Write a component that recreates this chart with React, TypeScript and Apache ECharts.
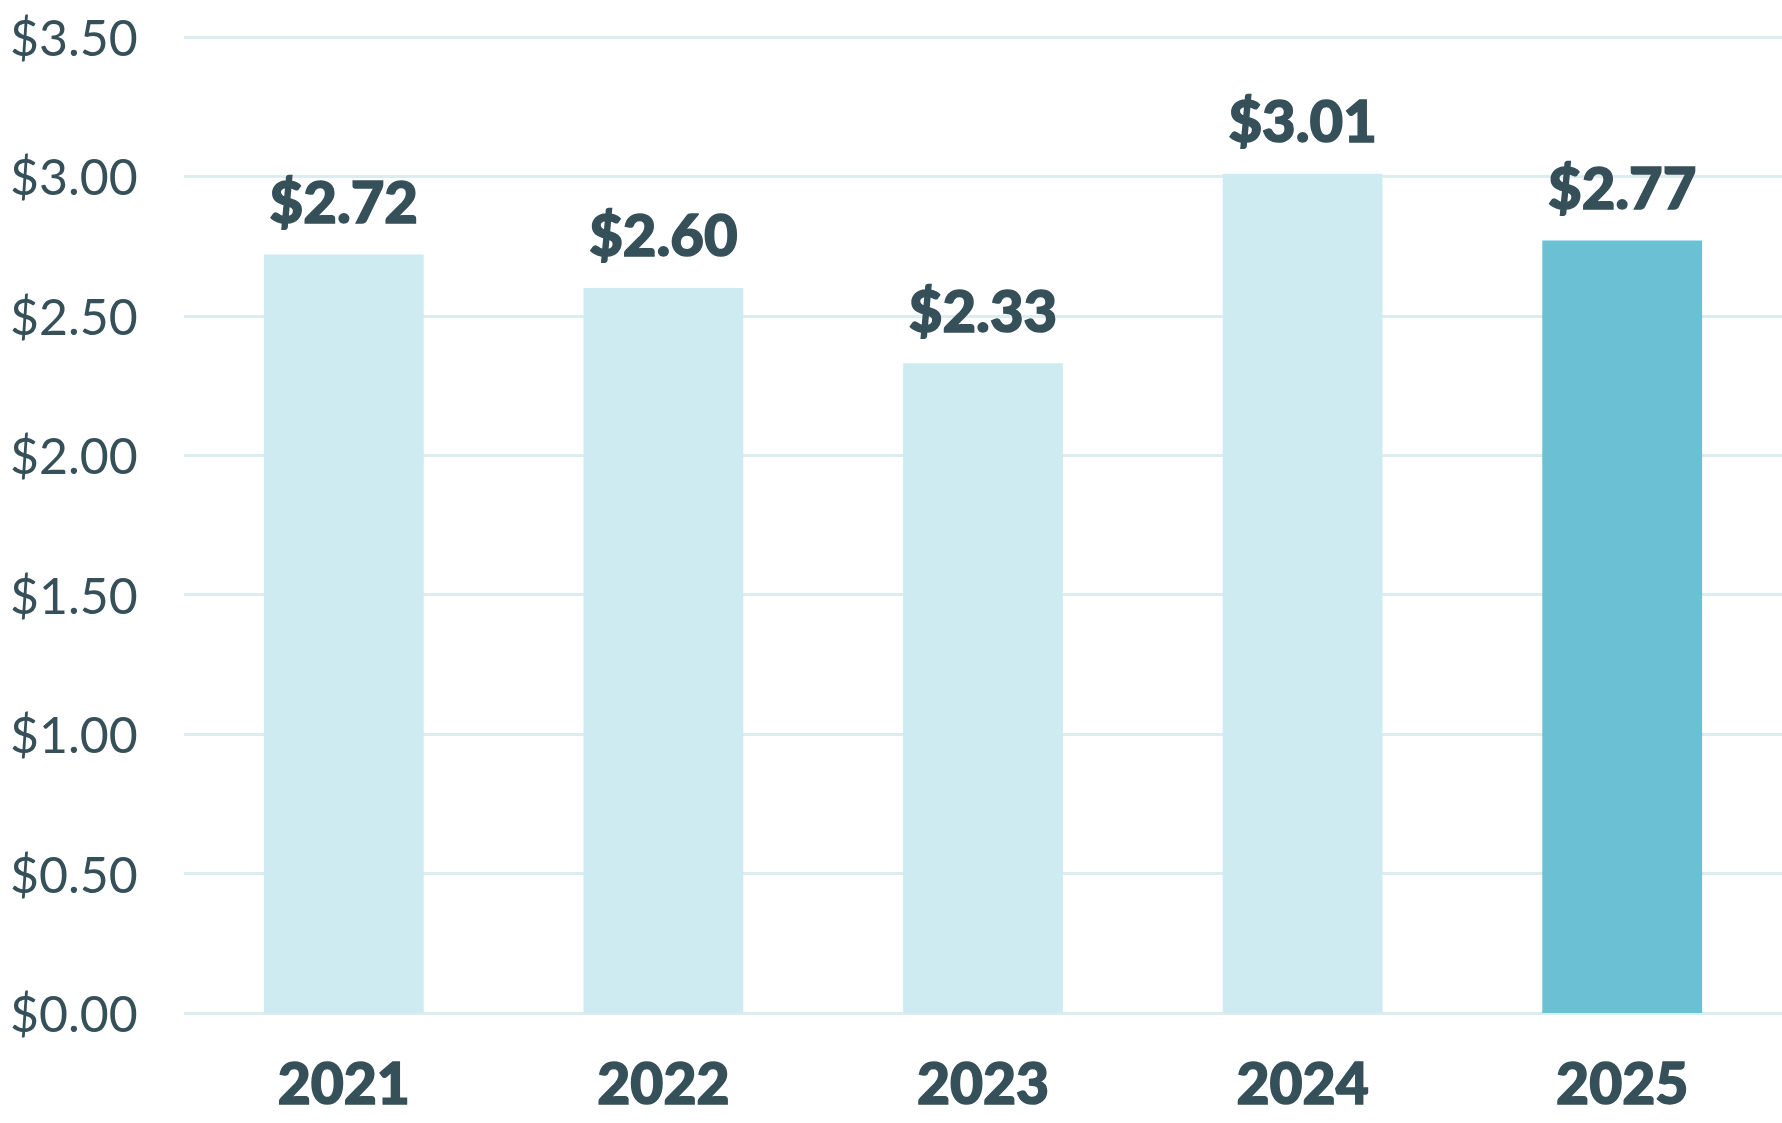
import React, { useEffect, useRef } from "react";
import * as echarts from "echarts";

const categories = ["2021", "2022", "2023", "2024", "2025"];
const values = [2.72, 2.6, 2.33, 3.01, 2.77];
const highlightIndex = 4;
const yTicks = [0, 0.5, 1, 1.5, 2, 2.5, 3, 3.5];

const TEXT = "#36505a";
const LIGHT = "#cdebf1";
const DARK = "#6cc0d3";
const GRID = "#dcecef";

export default function App() {
  const ref = useRef<HTMLDivElement>(null);
  useEffect(() => {
    document.body.style.margin = "0";
    const chart = echarts.init(ref.current!, null, { renderer: "svg" });
    chart.setOption({
      animation: false,
      backgroundColor: "#ffffff",
      grid: { left: 184, right: 0, top: 37, bottom: 110, containLabel: false },
      xAxis: {
        type: "category",
        data: categories,
        axisLine: { show: false },
        axisTick: { show: false },
        axisLabel: {
          color: TEXT,
          fontFamily: "Lato",
          fontWeight: 900,
          fontSize: 57,
          margin: 40,
          textBorderColor: TEXT,
          textBorderWidth: 1.5,
        },
      },
      yAxis: {
        type: "value",
        min: yTicks[0],
        max: yTicks[yTicks.length - 1],
        interval: 0.5,
        axisLine: { show: false },
        axisTick: { show: false },
        splitLine: { lineStyle: { color: GRID, width: 3 } },
        axisLabel: {
          color: TEXT,
          fontFamily: "Lato",
          fontWeight: 400,
          fontSize: 50,
          align: "left",
          margin: 174,
          formatter: (v: number) => "$" + v.toFixed(2),
        },
      },
      series: [
        {
          type: "bar",
          barWidth: "50%",
          data: values.map((v, i) => ({
            value: v,
            itemStyle: { color: i === highlightIndex ? DARK : LIGHT },
          })),
          label: {
            show: true,
            position: "top",
            distance: 25,
            color: TEXT,
            fontFamily: "Lato",
            fontWeight: 900,
            fontSize: 58,
            textBorderColor: TEXT,
            textBorderWidth: 1.5,
            formatter: (p: any) => "$" + p.value.toFixed(2),
          },
        },
      ],
    });
    return () => chart.dispose();
  }, []);
  return (
    <div
      ref={ref}
      style={{ position: "fixed", left: 0, top: 0, width: 1782, height: 1123 }}
    />
  );
}
